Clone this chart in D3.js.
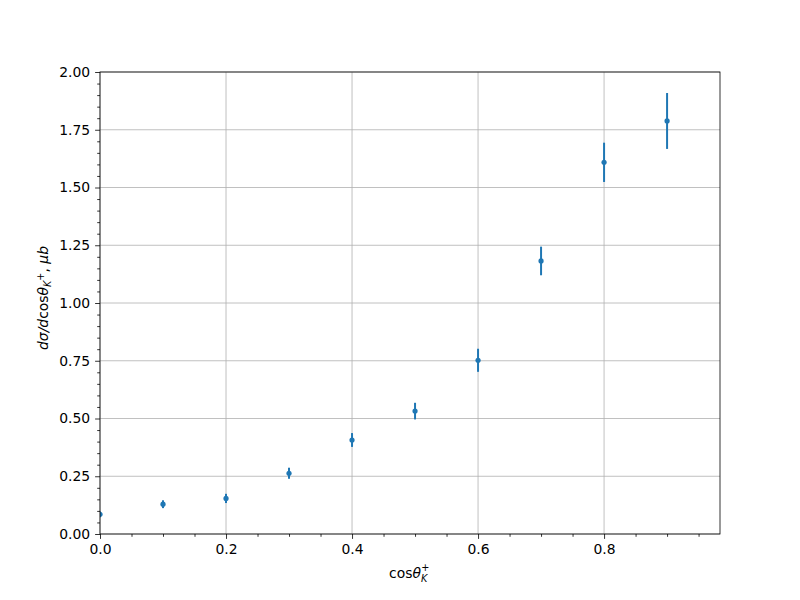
<!DOCTYPE html>
<html><head><meta charset="utf-8">
<script src="https://cdn.jsdelivr.net/npm/d3@7"></script>
<style>body{margin:0;background:#fff}svg{display:block}text{font-family:"DejaVu Sans",sans-serif}</style>
</head><body>
<svg id="c" width="800" height="600"></svg>
<script>
const xVals = [0.0, 0.1, 0.2, 0.3, 0.4, 0.5, 0.6, 0.7, 0.8, 0.9];
const yVals = [0.085, 0.129, 0.154, 0.263, 0.407, 0.532, 0.752, 1.182, 1.609, 1.788];
const yErrs = [0.012, 0.017, 0.02, 0.024, 0.03, 0.036, 0.05, 0.062, 0.085, 0.121];
const xTicks = [0.0, 0.2, 0.4, 0.6, 0.8];
const yTicks = [0.0, 0.25, 0.5, 0.75, 1.0, 1.25, 1.5, 1.75, 2.0];
const xMinor = [0.05,0.1,0.15,0.25,0.3,0.35,0.45,0.5,0.55,0.65,0.7,0.75,0.85,0.9,0.95];
const yMinor = d3.range(0,2.0001,0.05).filter(v=>Math.abs(v/0.25-Math.round(v/0.25))>1e-6);

const L=100,R=720,T=72,B=534;
const svg=d3.select("#c");
const x=d3.scaleLinear().domain([0,0.984]).range([L,R]);
const y=d3.scaleLinear().domain([0,2.0]).range([B,T]);
const fs="13.9px";

// grid
svg.append("g").selectAll("line").data(xTicks).join("line")
 .attr("x1",d=>x(d)).attr("x2",d=>x(d)).attr("y1",T).attr("y2",B)
 .attr("stroke","#b0b0b0").attr("stroke-width",0.8);
svg.append("g").selectAll("line").data(yTicks).join("line")
 .attr("y1",d=>y(d)).attr("y2",d=>y(d)).attr("x1",L).attr("x2",R)
 .attr("stroke","#b0b0b0").attr("stroke-width",0.8);

// data
svg.append("clipPath").attr("id","clip").append("rect").attr("x",L).attr("y",T).attr("width",R-L).attr("height",B-T);
const g=svg.append("g").attr("clip-path","url(#clip)");
const data=xVals.map((v,i)=>({x:v,y:yVals[i],e:yErrs[i]}));
g.selectAll("line.eb").data(data).join("line").attr("class","eb")
 .attr("x1",d=>x(d.x)).attr("x2",d=>x(d.x)).attr("y1",d=>y(d.y-d.e)).attr("y2",d=>y(d.y+d.e))
 .attr("stroke","#1f77b4").attr("stroke-width",2);
g.selectAll("circle").data(data).join("circle")
 .attr("cx",d=>x(d.x)).attr("cy",d=>y(d.y)).attr("r",2.6).attr("fill","#1f77b4");

// axes
const xa=svg.append("g").attr("transform",`translate(0,${B})`)
 .call(d3.axisBottom(x).tickValues(xTicks).tickFormat(d3.format(".1f")).tickSize(4.9).tickPadding(4.9));
const xm=svg.append("g").attr("transform",`translate(0,${B})`)
 .call(d3.axisBottom(x).tickValues(xMinor).tickFormat("").tickSize(2.8));
const ya=svg.append("g").attr("transform",`translate(${L},0)`)
 .call(d3.axisLeft(y).tickValues(yTicks).tickFormat(d3.format(".2f")).tickSize(4.9).tickPadding(4.9));
const ym=svg.append("g").attr("transform",`translate(${L},0)`)
 .call(d3.axisLeft(y).tickValues(yMinor).tickFormat("").tickSize(2.8));
[xa,xm,ya,ym].forEach(a=>{a.select(".domain").remove();a.selectAll("line").attr("stroke","#000").attr("stroke-width",0.8);
 a.selectAll("text").attr("font-size",fs).attr("font-family","DejaVu Sans").attr("fill","#000");});
xa.selectAll("text").attr("dy","0.75em");
svg.append("rect").attr("x",L).attr("y",T).attr("width",R-L).attr("height",B-T)
 .attr("fill","none").attr("stroke","#000").attr("stroke-width",0.8);

// x label
const xl=svg.append("text").attr("x",389).attr("y",578).attr("font-size",fs).attr("fill","#000");
xl.append("tspan").text("cos");
xl.append("tspan").attr("font-style","italic").text("θ");
xl.append("tspan").attr("font-style","italic").attr("font-size","9.7px").attr("dy",4).text("K");
xl.append("tspan").attr("font-size","9.7px").attr("dx",-6).attr("dy",-11).text("+");

// y label
const yl=svg.append("text").attr("transform","translate(48,298) rotate(-90)").attr("text-anchor","middle")
 .attr("font-size",fs).attr("fill","#000");
yl.append("tspan").attr("font-style","italic").text("dσ/d");
yl.append("tspan").text("cos");
yl.append("tspan").attr("font-style","italic").text("θ");
yl.append("tspan").attr("font-style","italic").attr("font-size","9.7px").attr("dy",3).text("K");
yl.append("tspan").attr("font-size","9.7px").attr("dy",-7).text("+");
yl.append("tspan").attr("dy",4).text(", ");
yl.append("tspan").attr("font-style","italic").text("μb");
</script>
</body></html>
